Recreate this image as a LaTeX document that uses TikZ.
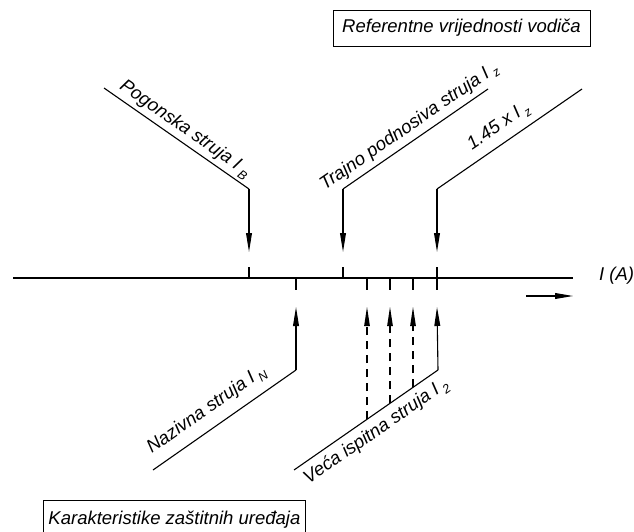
\documentclass[tikz,border=0pt]{standalone}
\usepackage{fontspec}
\setmainfont{Liberation Sans}
\usetikzlibrary{arrows.meta,calc}
\newcommand\subx[1]{\hspace{0.2em}\raisebox{-0.45ex}{\fontsize{12.5}{14}\selectfont #1}}
\begin{document}
\begin{tikzpicture}[x=1pt,y=-1pt,
  thinline/.style={line width=1.1pt},
  axisline/.style={line width=2.2pt},
  arr/.style={thinline,-{Triangle[length=19pt,width=5.8pt]}},
  dashline/.style={thinline,dash pattern=on 8pt off 6pt},
  lab/.style={font=\itshape\fontsize{18.5}{22}\selectfont,inner sep=0pt,sloped},
  boxlab/.style={draw,line width=0.9pt,font=\itshape\fontsize{18.5}{22}\selectfont,inner sep=0pt}]
\clip (0,0) rectangle (634,532);
% axis
\coordinate (ax0) at (13,278);
\coordinate (ax1) at (573,278);
\draw[axisline] (ax0) -- (ax1);
\node[font=\itshape\fontsize{18.5}{22}\selectfont,anchor=west,inner sep=0pt] (IA) at (599,276) {I (A)};
\coordinate (dir0) at (526,296);
\coordinate (dir1) at (573,296);
\draw[thinline,-{Triangle[length=18pt,width=5.8pt]}] (dir0) -- (dir1);
% upper ticks
\foreach \x/\n in {249/b,343/t,437/h}{
  \coordinate (ut\n) at (\x,267);
  \coordinate (ub\n) at (\x,278);
  \draw[thinline] (ut\n) -- (ub\n);
}
% lower ticks
\foreach \x/\n in {296/n,367/d1,390/d2,413/d3,437/h}{
  \coordinate (lt\n) at (\x,278);
  \coordinate (lb\n) at (\x,290);
  \draw[thinline] (lt\n) -- (lb\n);
}
% upper leaders
\coordinate (B0) at (104,88);  \coordinate (B1) at (249,189); \coordinate (B2) at (249,252);
\coordinate (Z0) at (488,89);  \coordinate (Z1) at (343,189); \coordinate (Z2) at (343,252);
\coordinate (H0) at (582,89);  \coordinate (H1) at (437,189); \coordinate (H2) at (437,252);
\draw[thinline] (B0) -- node[lab,above=3pt,pos=0.51] (labB) {Pogonska struja I\subx{B}} (B1);
\draw[arr] (B1) -- (B2);
\draw[thinline] (Z1) -- node[lab,above=4pt,pos=0.51] (labZ) {Trajno podnosiva struja I\subx{z}} (Z0);
\draw[arr] (Z1) -- (Z2);
\draw[thinline] (H1) -- node[lab,above=7pt,pos=0.49] (labH) {1.45 x I\subx{z}} (H0);
\draw[arr] (H1) -- (H2);
% lower leaders
\coordinate (N0) at (153,470); \coordinate (N1) at (296,370); \coordinate (N2) at (296,307);
\coordinate (V0) at (294,470); \coordinate (V1) at (438,370); \coordinate (V2) at (437,307);
\draw[thinline] (N0) -- node[lab,above=9pt,pos=0.45] (labN) {Nazivna struja I\subx{N}} (N1);
\draw[arr] (N1) -- (N2);
\draw[thinline] (V0) -- node[lab,below=6pt,pos=0.51] (labV) {Veća ispitna struja I\subx{2}} (V1);
\draw[arr] (V1) -- (V2);
% dashed arrows
\coordinate (D1a) at (367,419); \coordinate (D1b) at (367,307);
\coordinate (D2a) at (390,403); \coordinate (D2b) at (390,307);
\coordinate (D3a) at (413,387); \coordinate (D3b) at (413,307);
\foreach \n in {1,2,3}{
  \draw[dashline] (D\n a) -- ($(D\n b)+(0,18)$);
  \fill (D\n b) -- ++(-2.9,19) -- ++(5.8,0) -- cycle;
}
% boxes
\node[boxlab,minimum width=257pt,minimum height=36pt] (ref) at (461.5,28) {Referentne vrijednosti vodiča};
\node[boxlab,minimum width=262pt,minimum height=38pt,anchor=north west] (kar) at (43,500) {Karakteristike zaštitnih uređaja};
\end{tikzpicture}
\end{document}
